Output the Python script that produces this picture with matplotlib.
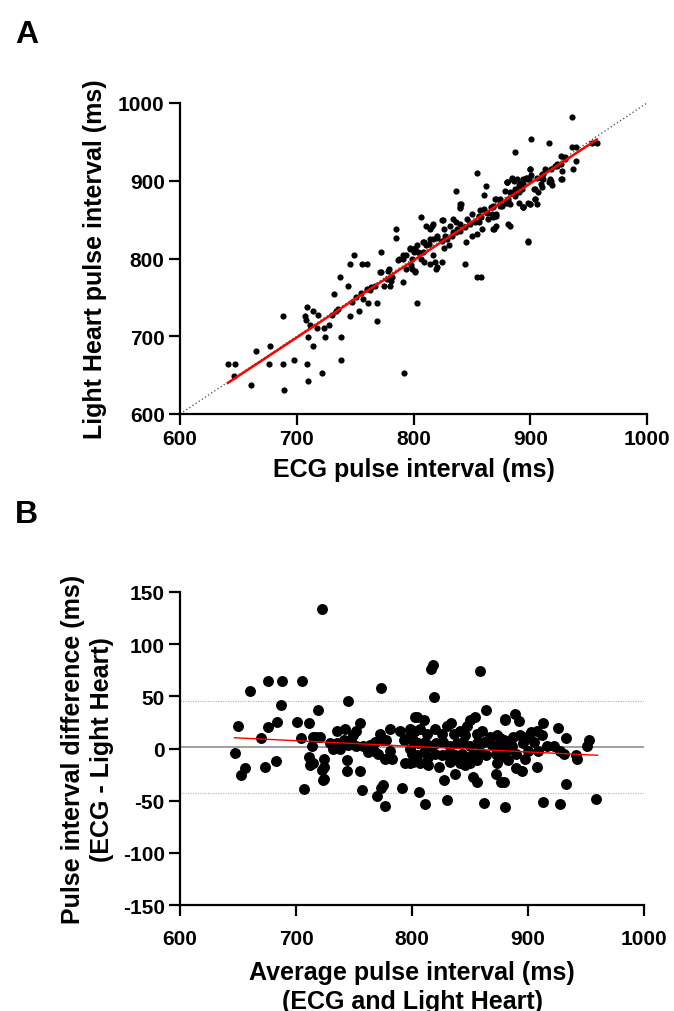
import matplotlib
matplotlib.use("Agg")
import matplotlib.pyplot as plt

plt.rcParams['font.family'] = ['Liberation Sans', 'DejaVu Sans']
plt.rcParams['font.weight'] = 'bold'
plt.rcParams['axes.unicode_minus'] = False

# ---- panel A: ECG vs Light Heart pulse interval (ms) ----
ecg_a = [641, 647, 646, 661, 665, 677, 676, 688, 688, 689, 698, 709, 710, 722, 714, 710, 724, 738,
         738, 792, 709, 707, 708, 714, 718, 711, 717, 723, 728, 730, 734, 732, 735, 737, 744, 746,
         746, 749, 753, 756, 760, 772, 772, 769, 769, 761, 757, 747, 751, 755, 760, 764, 767, 763,
         775, 780, 778, 781, 777, 785, 785, 787, 791, 791, 794, 799, 801, 803, 797, 801, 804, 799,
         806, 806, 811, 816, 809, 813, 817, 820, 824, 829, 833, 836, 840, 809, 814, 819, 824, 825,
         836, 837, 836, 840, 840, 844, 845, 853, 856, 860, 863, 866, 859, 854, 850, 854, 854, 858,
         860, 862, 869, 870, 874, 879, 881, 883, 880, 884, 889, 893, 896, 899, 901, 887, 883, 887,
         890, 893, 894, 900, 904, 906, 898, 900, 901, 904, 909, 909, 911, 913, 916, 917, 919, 927,
         923, 926, 930, 936, 936, 939, 937, 939, 953, 957,
         771, 779, 782, 788, 880, 886, 890, 894, 897, 883, 887, 890, 881, 871, 874, 868, 867, 871,
         864, 857, 858, 856, 850, 846, 848, 844, 840, 840, 841, 834, 831, 834, 827, 826, 824, 817,
         814, 820, 814, 808, 803, 800, 797, 794, 791, 798, 801, 808, 811, 817, 818, 820, 826, 830,
         868, 871, 881, 898, 894, 898, 926, 930, 923, 927, 918, 921, 910, 911, 906, 900, 898, 894,
         891, 890, 884, 880, 878, 886, 874, 870, 868, 876, 881, 871, 868, 894, 900, 904, 903, 907,
         918, 926, 916, 910]
lh_a = [664, 664, 649, 637, 681, 687, 664, 726, 664, 631, 670, 664, 642, 653, 687, 699, 699, 699,
        670, 653, 737, 726, 721, 732, 727, 714, 710, 710, 715, 727, 732, 754, 735, 776, 765, 726,
        793, 804, 732, 793, 793, 809, 782, 720, 743, 743, 748, 744, 750, 756, 761, 763, 765, 759,
        765, 765, 784, 771, 773, 838, 826, 798, 804, 770, 787, 787, 782, 743, 814, 814, 808, 799,
        799, 854, 842, 842, 821, 819, 825, 829, 823, 825, 829, 834, 836, 795, 793, 787, 795, 850,
        847, 838, 887, 870, 866, 793, 821, 847, 855, 864, 859, 866, 838, 832, 829, 910, 776, 776,
        882, 893, 838, 855, 870, 872, 877, 870, 899, 904, 902, 898, 904, 902, 907, 937, 842, 889,
        885, 889, 866, 870, 877, 870, 821, 915, 954, 889, 896, 904, 909, 915, 949, 902, 894, 902,
        919, 922, 930, 982, 943, 943, 915, 926, 949, 949,
        782, 787, 776, 799, 898, 900, 894, 896, 903, 885, 881, 872, 874, 877, 868, 866, 857, 855,
        851, 862, 853, 847, 857, 851, 844, 840, 844, 865, 870, 851, 842, 834, 829, 838, 849, 844,
        838, 827, 825, 821, 817, 808, 812, 804, 799, 791, 784, 808, 817, 804, 795, 789, 814, 817,
        838, 842, 844, 823, 866, 872, 932, 928, 922, 913, 915, 919, 909, 902, 904, 915, 902, 902,
        896, 889, 902, 898, 887, 885, 876, 876, 868, 868, 872, 857, 853, 866, 870, 877, 889, 885,
        900, 902, 898, 892]

# identity line and regression line (end points)
identity_x = [600, 1000]
identity_y = [600, 1000]
reg_a_x = [641, 957]
reg_a_y = [640, 953]

# ---- panel B: Bland-Altman ----
avg_b = [722, 660, 676, 688, 705, 687, 719, 650, 676, 684, 701, 711, 670, 704, 647, 656, 653, 673,
         683, 707, 715, 721, 714, 711, 715, 722, 712, 724, 723, 717,
         773, 745, 755, 752, 735, 742, 749, 747, 741, 735, 729, 732, 738, 745, 752, 758, 764, 768,
         772, 774, 767, 771, 762, 781, 778, 781, 777, 783, 790, 793, 797, 798, 794, 798, 803, 724,
         724, 744, 744, 755, 757, 775, 773, 770, 777, 791,
         816, 818, 859, 819, 864, 880, 804, 810, 854, 830, 834, 847, 850, 798, 803, 807, 813, 820,
         826, 836, 841, 846, 856, 860, 867, 873, 879, 801, 805, 811, 816, 821, 827, 833, 839, 844,
         850, 856, 862, 869, 874, 880, 800, 804, 810, 814, 820, 826, 831, 837, 843, 847, 853, 859,
         864, 872, 877, 801, 807, 814, 823, 833, 841, 846, 850, 856, 873, 828, 837, 853, 856, 872,
         877, 806, 811, 830, 862, 880,
         889, 880, 892, 913, 926, 933, 953, 951, 941, 942, 876, 879, 887, 893, 899, 903, 908, 912,
         905, 896, 886, 881, 890, 900, 909, 916, 922, 928, 931, 897, 890, 895, 908, 883, 879, 933,
         913, 928, 959]
diff_b = [134, 55, 65, 65, 65, 42, 37, 22, 21, 25, 25, 24, 10, 10, -4, -19, -25, -18,
          -12, -39, 11, 11, 2, -8, -14, -21, -16, -10, -30, 11,
          58, 46, 24, 17, 17, 19, 13, 8, 8, 5, 5, 0, 0, 3, 2, 2, 3, 6,
          14, 8, -2, -5, -3, 19, 8, -2, -10, -10, 17, 8, 11, 0, -14, -14, 30, -18,
          -29, -11, -22, -22, -40, -35, -38, -46, -55, -38,
          76, 80, 74, 49, 37, 27, 30, 27, 30, 22, 24, 22, 27, 19, 17, 19, 14, 19,
          14, 14, 17, 13, 14, 17, 11, 13, 8, 8, 5, 6, 2, 5, 6, 2, 5, 6,
          2, 5, 6, 3, 2, -2, -5, -6, -3, -8, -5, -6, -5, -6, -5, -8, -6, -3,
          -6, -5, -8, -13, -14, -16, -18, -13, -14, -16, -14, -11, -14, -30, -24, -27, -32, -24,
          -32, -42, -53, -49, -52, -56,
          33, 28, 26, 24, 20, 10, 8, 2, -6, -10, 10, 5, 11, 13, 11, 16, 17, 13,
          6, 5, 2, -2, -5, -2, -2, 2, 2, -2, -5, -10, -19, -22, -18, -11, -32, -34,
          -51, -53, -48]

bias = 1.5
loa_upper = 46
loa_lower = -43
loa_x = [600, 1000]
reg_b_x = [647, 960]
reg_b_y = [10.3, -6.5]


def style_axes(ax, xlim, ylim, xticks, yticks, xpad):
    ax.set_xlim(*xlim)
    ax.set_ylim(*ylim)
    ax.set_xticks(xticks)
    ax.set_yticks(yticks)
    for side in ['top', 'right']:
        ax.spines[side].set_visible(False)
    for side in ['left', 'bottom']:
        ax.spines[side].set_linewidth(1.6)
    ax.tick_params(axis='both', direction='out', length=8, width=1.6, labelsize=15)
    ax.tick_params(axis='x', pad=xpad)
    ax.tick_params(axis='y', pad=3)
    for lab in ax.get_xticklabels() + ax.get_yticklabels():
        lab.set_fontweight('bold')


def main():
    fig = plt.figure(figsize=(6.74, 10.12), dpi=100)

    ax_a = fig.add_axes([180 / 674, 1 - 415 / 1012, 467 / 674, 311 / 1012])
    ax_a.plot(identity_x, identity_y, color='#444444', linestyle=(0, (1, 2)), linewidth=0.9, zorder=1)
    ax_a.scatter(ecg_a, lh_a, s=20, color='black', linewidths=0, zorder=2)
    ax_a.plot(reg_a_x, reg_a_y, color='red', linewidth=1.8, zorder=3)
    style_axes(ax_a, (600, 1000), (600, 1000), [600, 700, 800, 900, 1000],
               [600, 700, 800, 900, 1000], 3)
    ax_a.set_xlabel('ECG pulse interval (ms)', fontsize=18, fontweight='bold', labelpad=6)
    ax_a.set_ylabel('Light Heart pulse interval (ms)', fontsize=18, fontweight='bold', labelpad=8)

    ax_b = fig.add_axes([180 / 674, 1 - 906 / 1012, 464 / 674, 313 / 1012])
    ax_b.plot(loa_x, [loa_upper, loa_upper], color='#bbbbbb', linestyle=(0, (1, 1)), linewidth=0.9, zorder=1)
    ax_b.plot(loa_x, [loa_lower, loa_lower], color='#bbbbbb', linestyle=(0, (1, 1)), linewidth=0.9, zorder=1)
    ax_b.plot(loa_x, [bias, bias], color='#a0a0a0', linewidth=1.4, zorder=1)
    ax_b.scatter(avg_b, diff_b, s=62, color='black', linewidths=0, zorder=2)
    ax_b.plot(reg_b_x, reg_b_y, color='red', linewidth=1.0, zorder=3)
    style_axes(ax_b, (600, 1000), (-150, 150), [600, 700, 800, 900, 1000],
               [-150, -100, -50, 0, 50, 100, 150], 9)
    ax_b.set_xlabel('Average pulse interval (ms)\n(ECG and Light Heart)', fontsize=18,
                    fontweight='bold', labelpad=9, linespacing=1.25)
    ax_b.set_ylabel('Pulse interval difference (ms)\n(ECG - Light Heart)', fontsize=18,
                    fontweight='bold', labelpad=6, linespacing=1.3)

    fig.text(15 / 674, 1 - 43 / 1012, 'A', fontsize=23, fontweight='bold')
    fig.text(15 / 674, 1 - 523 / 1012, 'B', fontsize=23, fontweight='bold')

    fig.savefig('out.png', dpi=100)


if __name__ == '__main__':
    main()
